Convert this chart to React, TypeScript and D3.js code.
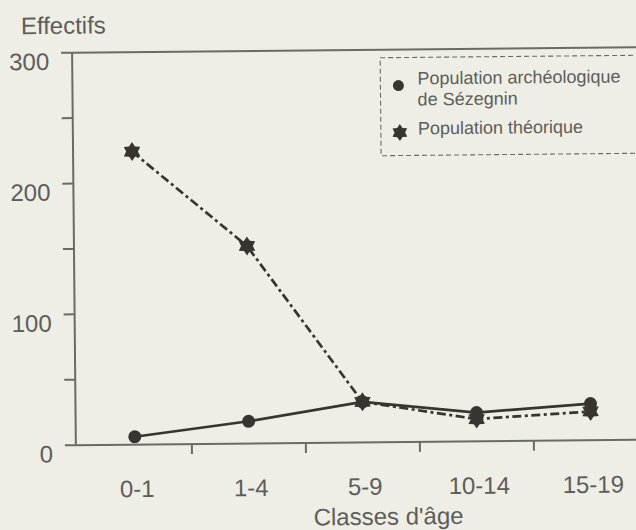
import React from "react";
import * as d3 from "d3";

const categories = ["0-1", "1-4", "5-9", "10-14", "15-19"];
const archeo = [6, 17, 31, 22, 28];
const theorique = [224, 151, 31, 17, 22];
const yTicks = [0, 50, 100, 150, 200, 250, 300];
const yLabels = [0, 100, 200, 300];
const legendArcheo = ["Population archéologique", "de Sézegnin"];
const legendTheo = "Population théorique";
const yTitle = "Effectifs";
const xTitle = "Classes d'âge";

const W = 636;
const H = 530;
const BG = "#efeee6";
const INK = "#38342f";
const AXIS = "#6a6a66";
const TEXT = "#5e5d5a";
const FONT = "Liberation Sans, Arial, Helvetica, sans-serif";

function hexagram(cx: number, cy: number, R: number): string {
  const r = R * 0.62;
  const pts: [number, number][] = [];
  for (let i = 0; i < 12; i++) {
    const a = (Math.PI / 6) * i - Math.PI / 2;
    const rad = i % 2 === 0 ? R : r;
    pts.push([cx + rad * Math.cos(a), cy + rad * Math.sin(a)]);
  }
  return "M" + pts.map((p) => p.join(",")).join("L") + "Z";
}

export default function App() {
  const left = 74;
  const top = 50;
  const bottom = 442.5;
  const x = d3.scaleBand<string>().domain(categories).range([76, 646]).padding(0);
  const y = d3.scaleLinear().domain([0, 300]).range([bottom, top]);
  const cx = (c: string) => (x(c) as number) + x.bandwidth() / 2;

  const line = d3
    .line<number>()
    .x((_, i) => cx(categories[i]))
    .y((d) => y(d));

  const boundaries = categories.slice(1).map((c) => x(c) as number);

  return (
    <div style={{ position: "fixed", left: 0, top: 0, width: W, height: H, background: BG }}>
      <svg width={W} height={H} style={{ display: "block" }}>
        <rect x={0} y={0} width={W} height={H} fill={BG} />
        <g transform="rotate(-0.55, 354, 250)">
          {/* frame */}
          <line x1={left} y1={top} x2={left} y2={bottom} stroke={AXIS} strokeWidth={2} />
          <line x1={left} y1={top} x2={660} y2={top} stroke={AXIS} strokeWidth={2} />
          <line x1={left} y1={bottom} x2={660} y2={bottom} stroke={AXIS} strokeWidth={2} />
          {/* y ticks */}
          {yTicks.map((t) => (
            <line key={"yt" + t} x1={left - 11} x2={left} y1={y(t)} y2={y(t)} stroke={AXIS} strokeWidth={2} />
          ))}
          {yLabels.map((t) => (
            <text
              key={"yl" + t}
              x={51}
              y={y(t) + 17}
              textAnchor="end"
              fontFamily={FONT}
              fontSize={24}
              fill={TEXT}
            >
              {t}
            </text>
          ))}
          {/* x ticks */}
          {boundaries.map((b, i) => (
            <line key={"xt" + i} x1={b} x2={b} y1={bottom} y2={bottom + 10} stroke={AXIS} strokeWidth={2} />
          ))}
          {categories.map((c) => (
            <text
              key={"xl" + c}
              x={cx(c) + 2}
              y={bottom + 52.5}
              textAnchor="middle"
              fontFamily={FONT}
              fontSize={24}
              fill={TEXT}
            >
              {c}
            </text>
          ))}
          <text x={23} y={31} fontFamily={FONT} fontSize={24} fill={TEXT}>
            {yTitle}
          </text>
          <text x={386} y={525} textAnchor="middle" fontFamily={FONT} fontSize={24} fill={TEXT}>
            {xTitle}
          </text>

          {/* archeological series */}
          <path d={line(archeo) || ""} fill="none" stroke={INK} strokeWidth={2.7} />
          {archeo.map((v, i) => (
            <circle key={"c" + i} cx={cx(categories[i])} cy={y(v)} r={6.5} fill={INK} />
          ))}
          {/* theoretical series */}
          <path
            d={line(theorique) || ""}
            fill="none"
            stroke={INK}
            strokeWidth={2.7}
            strokeDasharray="9,3.5,3,3.5"
          />
          {theorique.map((v, i) => (
            <path key={"s" + i} d={hexagram(cx(categories[i]), y(v), 9.5)} fill={INK} />
          ))}

          {/* legend */}
          <rect
            x={382}
            y={58}
            width={290}
            height={98}
            fill="none"
            stroke={AXIS}
            strokeWidth={1.1}
            strokeDasharray="5,3"
          />
          <circle cx={400} cy={86} r={5.5} fill={INK} />
          <text x={419} y={85} fontFamily={FONT} fontSize={18} fill={TEXT}>
            {legendArcheo[0]}
          </text>
          <text x={419} y={106} fontFamily={FONT} fontSize={18} fill={TEXT}>
            {legendArcheo[1]}
          </text>
          <path d={hexagram(401, 133, 8.5)} fill={INK} />
          <text x={419} y={135} fontFamily={FONT} fontSize={18} fill={TEXT}>
            {legendTheo}
          </text>
        </g>
      </svg>
    </div>
  );
}
